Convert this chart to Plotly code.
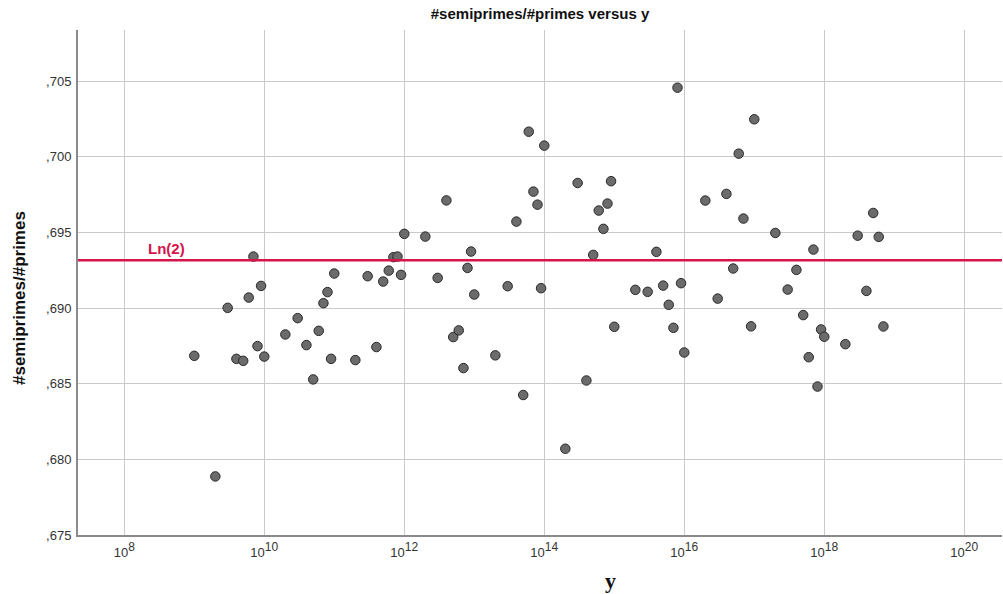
import math
import plotly.graph_objects as go

# x values are n * 10^k ; y = #semiprimes/#primes
x_mult = [1, 2, 3, 4, 5, 6, 7, 8, 9,
          1, 2, 3, 4, 5, 6, 7, 8, 9,
          1, 2, 3, 4, 5, 6, 7, 8, 9,
          1, 2, 3, 4, 5, 6, 7, 8, 9,
          1, 2, 3, 4, 5, 6, 7, 8, 9,
          1, 2, 3, 4, 5, 6, 7, 8, 9,
          1, 2, 3, 4, 5, 6, 7, 8, 9,
          1, 2, 3, 4, 5, 6, 7, 9,
          1, 2, 3, 4, 5, 6, 7, 8, 9,
          1, 2, 3, 4, 5, 6, 7]
x_exp = [9] * 9 + [10] * 9 + [11] * 9 + [12] * 9 + [13] * 9 + [14] * 9 + [15] * 9 + [16] * 8 + [17] * 9 + [18] * 7

ratio = [0.68684, 0.67887, 0.69001, 0.68664, 0.68651, 0.69069, 0.69340, 0.68748, 0.69146,
         0.68679, 0.68825, 0.68933, 0.68755, 0.68528, 0.68849, 0.69032, 0.69105, 0.68664,
         0.69228, 0.68656, 0.69210, 0.68742, 0.69175, 0.69247, 0.69336, 0.69340, 0.69219,
         0.69490, 0.69472, 0.69199, 0.69711, 0.68808, 0.68852, 0.68603, 0.69265, 0.69373,
         0.69089, 0.68687, 0.69144, 0.69571, 0.68425, 0.70165, 0.69769, 0.69683, 0.69131,
         0.70073, 0.68070, 0.69826, 0.68521, 0.69351, 0.69644, 0.69523, 0.69690, 0.69838,
         0.68876, 0.69120, 0.69107, 0.69371, 0.69148, 0.69021, 0.68869, 0.70456, 0.69164,
         0.68706, 0.69710, 0.69062, 0.69754, 0.69261, 0.70020, 0.69591, 0.68879,
         0.70247, 0.69496, 0.69122, 0.69252, 0.68953, 0.68675, 0.69386, 0.68481, 0.68858,
         0.68810, 0.68761, 0.69478, 0.69113, 0.69628, 0.69470, 0.68878]

x_vals = [m * 10.0 ** e for m, e in zip(x_mult, x_exp)]

y_ticks = [0.675, 0.680, 0.685, 0.690, 0.695, 0.700, 0.705]
y_ticktext = [",675", ",680", ",685", ",690", ",695", ",700", ",705"]
x_ticks = [1e8, 1e10, 1e12, 1e14, 1e16, 1e18, 1e20]
x_exponents = ["8", "10", "12", "14", "16", "18", "20"]
x_ticktext = ["10<sup><span style='font-size:12px'>%s</span></sup>" % s for s in x_exponents]

ln2 = math.log(2)
red = "#d4154a"
W, H = 1003, 594
ML, MR, MT, MB = 78, 1, 30, 59
PW, PH = W - ML - MR, H - MT - MB

fig = go.Figure()
fig.add_trace(go.Scatter(
    x=x_vals, y=ratio, mode="markers",
    marker=dict(size=9.5, color="#6b6b6b", line=dict(color="#2a2a2a", width=1)),
    showlegend=False, hoverinfo="x+y"))

fig.add_shape(type="line", xref="paper", x0=0, x1=1, yref="y", y0=ln2, y1=ln2,
              line=dict(color=red, width=2.5))
fig.add_annotation(x=8.61, y=ln2, xref="x", yref="y", text="<b>Ln(2)</b>",
                   showarrow=False, yanchor="bottom", yshift=1,
                   font=dict(family="Arial, Liberation Sans", size=15, color=red))

# x axis title
fig.add_annotation(x=(610 - ML) / PW, y=-(580 - (MT + PH)) / PH, xref="paper", yref="paper",
                   text="<b>y</b>", showarrow=False, yanchor="middle", xanchor="center",
                   font=dict(family="Liberation Serif, Times New Roman, serif", size=22, color="#111"))
# y axis title
fig.add_annotation(x=-(ML - 19) / PW, y=(MT + PH - 298) / PH, xref="paper", yref="paper",
                   text="<b>#semiprimes/#primes</b>", showarrow=False, textangle=-90,
                   xanchor="center", yanchor="middle",
                   font=dict(family="Arial, Liberation Sans", size=17, color="#111"))

fig.update_layout(
    width=W, height=H,
    margin=dict(l=ML, r=MR, t=MT, b=MB, autoexpand=False),
    paper_bgcolor="white", plot_bgcolor="white",
    title=dict(text="<b>#semiprimes/#primes versus y</b>", x=(540) / W, xanchor="center",
               y=1 - 14 / H, yanchor="middle",
               font=dict(family="Arial, Liberation Sans", size=15, color="#111")),
    font=dict(family="Arial, Liberation Sans", size=12, color="#333"),
    xaxis=dict(type="log", range=[7.339, 20.539], tickvals=x_ticks, ticktext=x_ticktext,
               showgrid=True, gridcolor="#c9c9c9", gridwidth=1.2,
               showline=True, linecolor="#8a8a8a", linewidth=2, automargin=False,
               zeroline=False, ticks="", tickfont=dict(size=13, color="#333"),
               ticklabelstandoff=4),
    yaxis=dict(range=[0.675, 0.70837], tickvals=y_ticks, ticktext=y_ticktext,
               showgrid=True, gridcolor="#c9c9c9", gridwidth=1.2,
               showline=True, linecolor="#8a8a8a", linewidth=2, automargin=False,
               zeroline=False, ticks="", tickfont=dict(size=13, color="#333"),
               ticklabelstandoff=2),
)

fig.write_html("out.html", config={"displayModeBar": False},
               post_script="document.body.style.margin='0';document.body.style.overflow='hidden';")
